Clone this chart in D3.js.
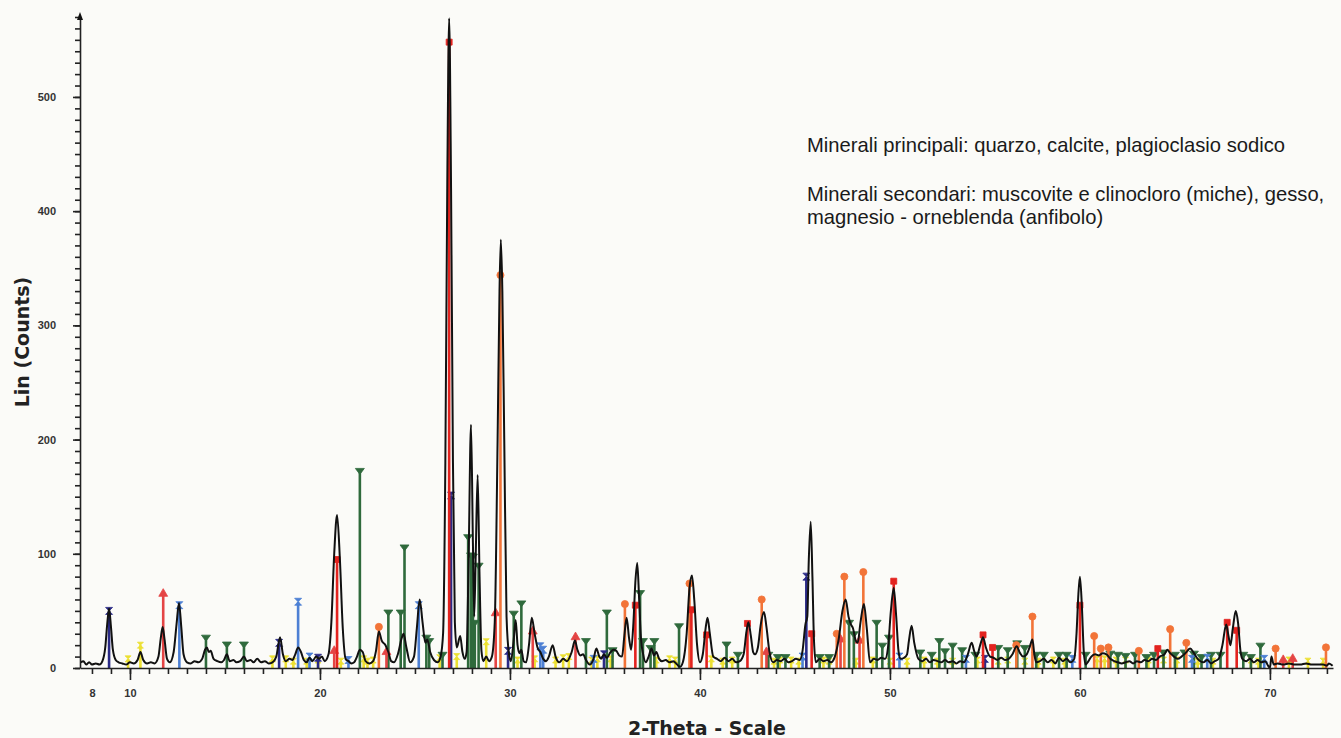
<!DOCTYPE html>
<html>
<head>
<meta charset="utf-8">
<script src="https://cdn.jsdelivr.net/npm/d3@7"></script>
<style>
  body { margin: 0; background: #fbfbf8; }
  svg { display: block; }
  .tick text { font-family: "Liberation Sans", Arial, sans-serif; font-weight: bold; font-size: 11px; fill: #333; }
  .note { font-family: "Liberation Sans", Arial, sans-serif; font-size: 20.2px; fill: #1a1a1a; }
  .axis-title { font-family: "DejaVu Sans", sans-serif; font-weight: bold; font-size: 19px; fill: #222; }
</style>
</head>
<body>
<script>
// measured diffractogram, [2-theta, counts]
const profile = [
  [7.4, 5], [7.55, 6], [7.7, 3], [7.85, 5], [8.0, 3], [8.2, 4], [8.4, 3], [8.55, 6],
  [8.7, 18], [8.8, 38], [8.9, 52], [9.0, 36], [9.1, 16], [9.25, 7], [9.4, 5], [9.6, 4],
  [9.8, 3], [10.0, 5], [10.2, 4], [10.4, 7], [10.55, 14], [10.7, 7], [10.9, 4], [11.1, 5],
  [11.3, 4], [11.5, 10], [11.62, 26], [11.72, 36], [11.82, 25], [11.95, 8], [12.1, 5],
  [12.3, 14], [12.45, 38], [12.58, 57], [12.7, 36], [12.82, 12], [13.0, 5], [13.2, 4],
  [13.4, 6], [13.6, 5], [13.8, 8], [13.95, 16], [14.05, 18], [14.15, 14], [14.25, 15],
  [14.4, 8], [14.6, 6], [14.8, 5], [14.95, 7], [15.1, 12], [15.25, 6], [15.45, 7],
  [15.6, 5], [15.8, 6], [16.0, 10], [16.15, 6], [16.35, 7], [16.5, 5], [16.7, 8],
  [16.9, 5], [17.1, 6], [17.3, 4], [17.5, 5], [17.7, 10], [17.9, 27], [18.05, 12],
  [18.2, 6], [18.4, 8], [18.55, 7], [18.7, 12], [18.85, 18], [19.0, 14], [19.15, 7],
  [19.3, 5], [19.45, 9], [19.6, 6], [19.8, 10], [19.95, 8], [20.1, 10], [20.25, 6],
  [20.45, 12], [20.6, 40], [20.75, 100], [20.9, 134], [21.05, 95], [21.2, 35], [21.35, 8],
  [21.5, 6], [21.65, 4], [21.8, 5], [21.95, 10], [22.1, 16], [22.25, 14], [22.4, 6],
  [22.6, 4], [22.8, 6], [22.95, 15], [23.1, 32], [23.25, 24], [23.45, 20], [23.6, 14],
  [23.75, 6], [23.9, 5], [24.1, 12], [24.3, 26], [24.4, 30], [24.55, 18], [24.75, 5],
  [24.95, 10], [25.1, 35], [25.25, 60], [25.4, 40], [25.55, 22], [25.65, 25], [25.8, 14],
  [26.0, 7], [26.2, 5], [26.35, 10], [26.48, 30], [26.6, 180], [26.7, 420], [26.8, 569],
  [26.9, 420], [27.0, 180], [27.1, 40], [27.2, 18], [27.38, 28], [27.5, 14], [27.62, 8],
  [27.72, 14], [27.82, 90], [27.95, 213], [28.05, 110], [28.12, 45], [28.2, 100],
  [28.3, 169], [28.4, 80], [28.5, 15], [28.6, 6], [28.75, 10], [28.9, 6], [29.05, 10],
  [29.2, 40], [29.35, 200], [29.45, 330], [29.52, 375], [29.6, 330], [29.7, 200],
  [29.82, 45], [29.95, 12], [30.05, 6], [30.2, 25], [30.3, 42], [30.4, 20], [30.5, 13],
  [30.6, 16], [30.72, 6], [30.85, 5], [31.0, 20], [31.15, 44], [31.3, 30], [31.45, 18],
  [31.6, 14], [31.75, 8], [31.9, 6], [32.05, 10], [32.25, 20], [32.4, 10], [32.6, 5],
  [32.8, 8], [33.0, 6], [33.25, 14], [33.42, 24], [33.55, 16], [33.7, 11], [33.85, 12],
  [34.0, 7], [34.2, 3], [34.4, 8], [34.55, 17], [34.7, 10], [34.8, 8], [34.95, 12],
  [35.1, 9], [35.3, 14], [35.45, 16], [35.6, 15], [35.75, 11], [35.9, 10], [36.02, 28],
  [36.14, 44], [36.27, 26], [36.38, 16], [36.5, 40], [36.6, 75], [36.7, 92], [36.8, 60],
  [36.9, 25], [37.0, 13], [37.15, 5], [37.3, 10], [37.45, 17], [37.58, 11], [37.7, 14],
  [37.85, 8], [38.0, 6], [38.2, 7], [38.4, 5], [38.6, 6], [38.8, 3], [38.95, 1],
  [39.1, 5], [39.3, 30], [39.45, 70], [39.58, 81], [39.7, 60], [39.85, 20], [40.0, 5],
  [40.15, 12], [40.3, 35], [40.4, 44], [40.52, 30], [40.7, 10], [40.9, 8], [41.1, 6],
  [41.3, 9], [41.5, 6], [41.7, 8], [41.9, 5], [42.1, 6], [42.3, 12], [42.45, 32],
  [42.55, 40], [42.68, 28], [42.8, 14], [42.9, 12], [43.05, 18], [43.2, 38], [43.37, 49],
  [43.5, 36], [43.65, 15], [43.85, 5], [44.05, 7], [44.25, 6], [44.45, 8], [44.65, 5],
  [44.85, 6], [45.05, 8], [45.25, 7], [45.4, 15], [45.55, 38], [45.65, 45], [45.73, 95],
  [45.83, 128], [45.92, 80], [46.0, 25], [46.1, 5], [46.3, 8], [46.5, 6], [46.7, 7],
  [46.9, 5], [47.1, 10], [47.3, 25], [47.5, 50], [47.67, 60], [47.82, 45], [47.95, 38],
  [48.05, 35], [48.2, 24], [48.3, 22], [48.45, 40], [48.63, 56], [48.78, 35], [48.95, 5],
  [49.15, 8], [49.35, 7], [49.55, 9], [49.75, 8], [49.9, 18], [50.05, 50], [50.2, 70],
  [50.33, 45], [50.45, 15], [50.56, 8], [50.75, 9], [50.9, 12], [51.0, 24], [51.14, 37],
  [51.28, 22], [51.5, 8], [51.7, 6], [51.9, 8], [52.1, 5], [52.3, 7], [52.5, 6],
  [52.7, 5], [52.9, 7], [53.1, 5], [53.3, 6], [53.5, 4], [53.7, 6], [53.9, 5],
  [54.1, 12], [54.3, 22], [54.45, 14], [54.56, 10], [54.75, 20], [54.9, 27], [55.05, 18],
  [55.27, 10], [55.45, 9], [55.65, 7], [55.85, 9], [56.05, 7], [56.25, 8], [56.45, 12],
  [56.67, 19], [56.85, 13], [57.0, 10], [57.2, 12], [57.35, 18], [57.5, 25], [57.6, 12],
  [57.7, 5], [57.9, 6], [58.1, 8], [58.3, 5], [58.5, 7], [58.7, 4], [58.9, 9],
  [59.1, 6], [59.3, 8], [59.5, 5], [59.7, 8], [59.82, 30], [59.92, 65], [60.0, 80],
  [60.1, 55], [60.2, 15], [60.3, 3], [60.45, 6], [60.6, 10], [60.8, 12], [61.0, 11],
  [61.2, 13], [61.4, 12], [61.6, 8], [61.8, 6], [62.0, 5], [62.2, 4], [62.4, 5],
  [62.6, 6], [62.8, 4], [63.0, 6], [63.2, 5], [63.4, 7], [63.6, 6], [63.8, 8],
  [64.0, 7], [64.2, 10], [64.45, 12], [64.6, 16], [64.75, 13], [64.95, 10], [65.15, 8],
  [65.35, 10], [65.55, 13], [65.8, 17], [66.0, 13], [66.2, 8], [66.5, 5], [66.7, 7],
  [66.9, 4], [67.1, 6], [67.3, 8], [67.5, 20], [67.7, 38], [67.82, 28], [67.92, 20],
  [68.05, 35], [68.2, 50], [68.32, 40], [68.45, 15], [68.55, 8], [68.75, 6], [68.95, 8],
  [69.15, 5], [69.35, 7], [69.55, 5], [69.75, 6], [69.9, 2], [70.0, 0], [70.08, 10],
  [70.2, 3], [70.4, 4], [70.7, 3], [71.0, 4], [71.3, 3], [71.6, 3], [71.9, 4],
  [72.2, 3], [72.5, 3], [72.8, 3], [73.0, 2], [73.1, 4], [73.3, 2]
];

// reference sticks per phase, [2-theta, height in counts]
const quartz = [
  [20.9, 95], [26.8, 548], [36.6, 55], [39.55, 51], [40.35, 29], [42.5, 39], [45.88, 30],
  [50.2, 76], [54.9, 29], [55.4, 18], [60.0, 55], [64.1, 17], [67.75, 40], [68.25, 33]
];
const calcite = [
  [23.1, 36], [29.5, 344], [36.05, 56], [39.45, 74], [43.25, 60], [47.2, 30], [47.6, 80],
  [48.6, 84], [56.65, 20], [57.5, 45], [60.75, 28], [61.1, 17], [61.5, 18], [63.1, 15],
  [64.75, 34], [65.6, 22], [70.3, 17], [72.95, 18]
];
const gypsum = [
  [11.75, 65], [20.75, 15], [23.5, 14], [29.25, 48], [31.2, 32], [33.45, 27], [43.5, 14],
  [47.4, 25], [48.4, 24], [70.7, 7], [71.2, 8]
];
const muscovite = [
  [8.9, 50], [17.85, 22], [19.9, 9], [26.9, 151], [29.9, 15], [34.95, 12], [45.6, 80], [55.0, 8]
];
const clinochlore = [
  [12.6, 55], [18.85, 58], [19.45, 10], [21.5, 7], [25.2, 55], [31.6, 19], [31.75, 16],
  [34.4, 8], [45.4, 10], [50.5, 10], [54.0, 8], [59.6, 8], [65.9, 8], [66.7, 9], [69.7, 8]
];
const hornblende = [
  [9.9, 8], [10.55, 20], [17.5, 8], [18.2, 8], [18.6, 6], [19.3, 6], [19.9, 7], [21.1, 6],
  [22.3, 8], [22.5, 6], [22.8, 7], [26.3, 9], [27.2, 10], [28.75, 23], [30.4, 7], [31.3, 8],
  [32.4, 7], [32.8, 9], [33.1, 10], [34.3, 7], [34.6, 8], [35.3, 8], [37.7, 7], [38.4, 8],
  [38.7, 7], [40.6, 8], [41.2, 6], [41.7, 7], [43.9, 6], [44.2, 7], [44.8, 7], [45.2, 6],
  [46.5, 7], [46.8, 6], [48.2, 6], [49.1, 7], [50.0, 6], [50.9, 6], [51.8, 7], [52.5, 6],
  [53.3, 6], [54.6, 7], [55.7, 6], [56.2, 7], [57.1, 6], [57.8, 6], [58.6, 7], [59.2, 6],
  [60.9, 8], [61.3, 8], [61.9, 7], [62.4, 7], [63.6, 7], [64.4, 7], [65.1, 7], [66.2, 6],
  [67.0, 6], [69.0, 7], [69.4, 6], [71.0, 7], [72.0, 6], [72.8, 6]
];
const albite = [
  [14.0, 27], [15.1, 21], [16.0, 21], [22.1, 173], [23.6, 49], [24.25, 49], [24.45, 106],
  [25.6, 27], [25.75, 24], [26.45, 12], [27.8, 115], [27.95, 99], [28.05, 98], [28.15, 40],
  [28.35, 90], [30.2, 48], [30.6, 57], [34.0, 24], [35.1, 49], [35.4, 16], [36.85, 66],
  [37.0, 24], [37.4, 18], [37.6, 24], [38.9, 37], [41.4, 21], [42.0, 12], [43.6, 12],
  [44.1, 10], [44.5, 10], [46.3, 10], [46.8, 10], [47.85, 40], [48.1, 30], [49.3, 40],
  [49.6, 20], [49.95, 27], [51.6, 14], [52.2, 12], [52.6, 24], [52.9, 15], [53.3, 20],
  [53.8, 16], [54.5, 12], [55.7, 18], [56.2, 16], [56.7, 22], [57.1, 18], [57.7, 12],
  [58.1, 12], [58.9, 12], [59.3, 12], [60.3, 12], [61.6, 13], [62.0, 12], [62.4, 11],
  [62.9, 12], [63.5, 10], [63.9, 12], [64.4, 14], [65.0, 12], [65.5, 14], [66.0, 13],
  [66.4, 10], [66.9, 12], [67.4, 12], [68.6, 12], [69.0, 10], [69.5, 20]
];

const xMinorTicks = d3.range(8, 74, 1);
const xMajorTicks = [10, 20, 30, 40, 50, 60, 70];
const xTickLabels = [8, 10, 20, 30, 40, 50, 60, 70];
const yMinorTicks = d3.range(0, 571, 10);
const yTickLabels = [0, 100, 200, 300, 400, 500];

const notes = [
  "Minerali principali: quarzo, calcite, plagioclasio sodico",
  "Minerali secondari: muscovite e clinocloro (miche), gesso,",
  "magnesio - orneblenda (anfibolo)"
];

let svg = null;
let x, y = null;
const W = 1341, H = 738;

appendSvg("body");
setupScales();
appendSticks();
appendProfile();
appendAxes();
appendNotes();

function appendSvg(domElement) {
  svg = d3.select(domElement).append("svg")
    .attr("width", W)
    .attr("height", H);
}

function setupScales() {
  x = d3.scaleLinear().domain([7.37, 73.32]).range([80, 1333]);
  y = d3.scaleLinear().domain([0, 570]).range([668, 17]);
}

// hourglass glyph used by a few of the phases
function hourglass(s) {
  return `M${-s},${-s}H${s}L${-s},${s}H${s}Z`;
}

function appendPhase(data, color, marker) {
  const g = svg.append("g");
  g.selectAll("line")
    .data(data)
    .enter()
    .append("line")
    .attr("x1", d => x(d[0]))
    .attr("x2", d => x(d[0]))
    .attr("y1", y(0))
    .attr("y2", d => y(d[1]))
    .style("stroke", color)
    .style("stroke-width", 2.6);

  g.selectAll("path")
    .data(data)
    .enter()
    .append("path")
    .attr("transform", d => `translate(${x(d[0])},${y(d[1])})`)
    .attr("d", marker)
    .style("fill", color)
    .style("stroke", color)
    .style("stroke-width", 0.8);
}

function appendSticks() {
  const tri = d3.symbol().type(d3.symbolTriangle).size(34)();
  appendPhase(hornblende, "#ece032", hourglass(3));
  appendPhase(albite, "#2f6a3c", `M-4.5,-2H4.5L0,4Z`);
  appendPhase(clinochlore, "#4d80d4", hourglass(3.5));
  appendPhase(muscovite, "#2a2a86", hourglass(3.5));
  appendPhase(gypsum, "#e44444", tri);
  appendPhase(calcite, "#f27438", d3.symbol().type(d3.symbolCircle).size(40)());
  appendPhase(quartz, "#e3231f", d3.symbol().type(d3.symbolSquare).size(36)());
}

function appendProfile() {
  const line = d3.line()
    .x(d => x(d[0]))
    .y(d => y(d[1]))
    .curve(d3.curveMonotoneX);

  svg.append("path")
    .datum(profile)
    .attr("d", line)
    .style("fill", "none")
    .style("stroke", "#111")
    .style("stroke-width", 2)
    .style("stroke-linejoin", "round");
}

function appendAxes() {
  const base = y(0);

  // X axis
  svg.append("g")
    .attr("transform", `translate(0, ${base})`)
    .call(d3.axisBottom(x).tickValues(xMinorTicks).tickSize(6).tickFormat("").tickSizeOuter(0));
  svg.append("g")
    .attr("transform", `translate(0, ${base})`)
    .call(d3.axisBottom(x).tickValues(xMajorTicks).tickSize(12).tickFormat("").tickSizeOuter(0))
    .call(g => g.select(".domain").remove());
  svg.append("g")
    .attr("transform", `translate(0, ${base})`)
    .call(d3.axisBottom(x).tickValues(xTickLabels).tickSize(0).tickPadding(21))
    .call(g => g.select(".domain").remove());

  // Y axis
  svg.append("g")
    .attr("transform", "translate(80, 0)")
    .call(d3.axisLeft(y).tickValues(yMinorTicks).tickSize(5).tickFormat("").tickSizeOuter(0));
  svg.append("g")
    .attr("transform", "translate(80, 0)")
    .call(d3.axisLeft(y).tickValues(yTickLabels).tickSize(7).tickPadding(17))
    .call(g => g.select(".domain").remove());

  svg.selectAll(".domain, .tick line")
    .style("stroke", "#222")
    .style("stroke-width", 1.6);

  // arrow head on top of y axis
  svg.append("path")
    .attr("d", "M80,12L77,20H83Z")
    .style("fill", "#111");

  svg.append("text")
    .attr("class", "axis-title")
    .attr("transform", "translate(29, 342) rotate(-90)")
    .style("text-anchor", "middle")
    .text("Lin (Counts)");

  svg.append("text")
    .attr("class", "axis-title")
    .attr("x", 707)
    .attr("y", 735)
    .style("text-anchor", "middle")
    .text("2-Theta - Scale");
}

function appendNotes() {
  const rows = [152, 201, 224];
  svg.selectAll(".note")
    .data(notes)
    .enter()
    .append("text")
    .attr("class", "note")
    .attr("x", 807)
    .attr("y", (d, i) => rows[i])
    .text(d => d);
}
</script>
</body>
</html>
